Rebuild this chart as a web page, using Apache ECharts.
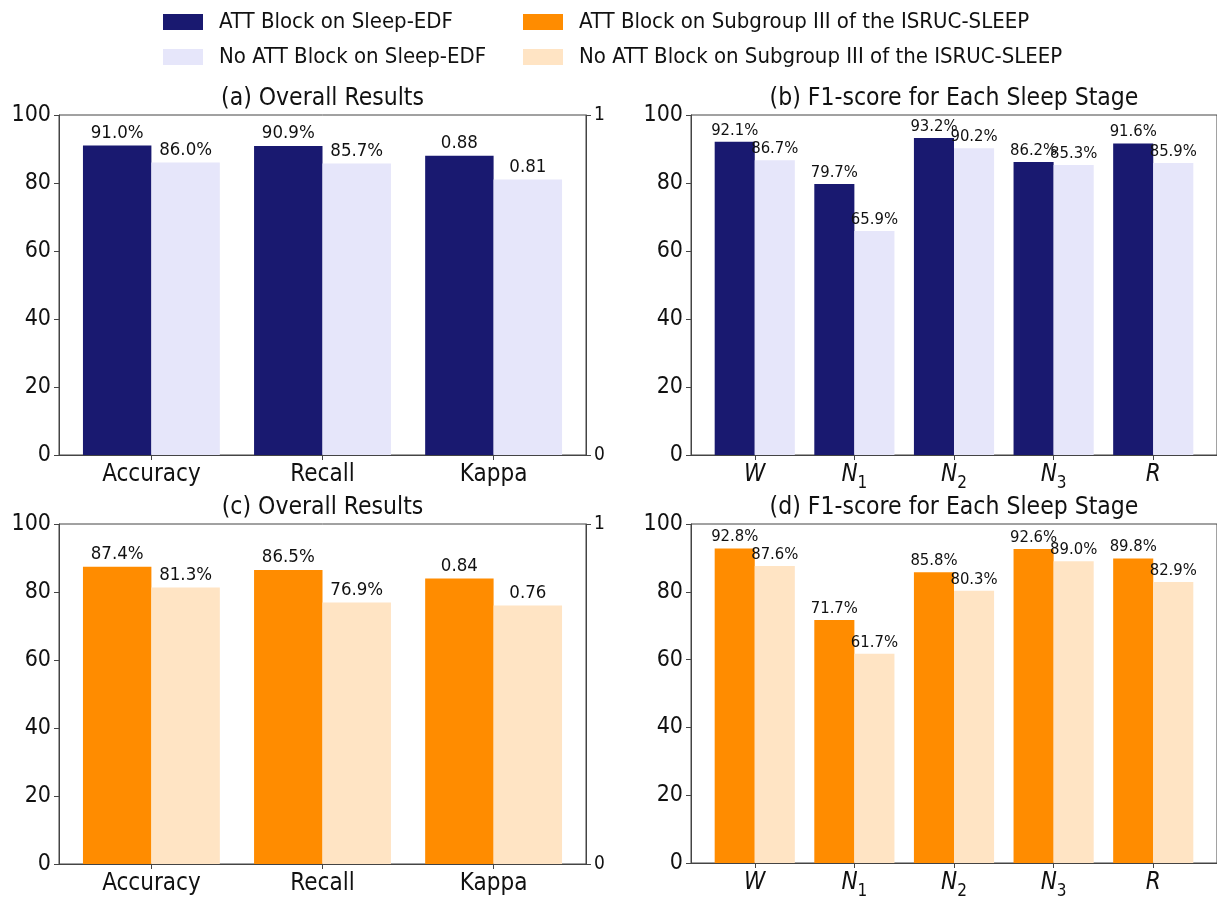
<!DOCTYPE html>
<html>
<head>
<meta charset="utf-8">
<title>ATT Block ablation</title>
<script src="https://cdn.jsdelivr.net/npm/echarts@6/dist/echarts.min.js"></script>
<style>
  html, body { margin: 0; padding: 0; background: #fff; }
  #chart { width: 1217px; height: 900px; }
</style>
</head>
<body>
<div id="chart"></div>
<script>
// ---- data ----
const overallCats = ['Accuracy', 'Recall', 'Kappa'];
const stageCats = ['W', 'N1', 'N2', 'N3', 'R'];
const yTicks = [0, 20, 40, 60, 80, 100];

const seriesNames = {
  edfAtt: 'ATT Block on Sleep-EDF',
  edfNo: 'No ATT Block on Sleep-EDF',
  isAtt: 'ATT Block on Subgroup III of the ISRUC-SLEEP',
  isNo: 'No ATT Block on Subgroup III of the ISRUC-SLEEP'
};

// Sleep-EDF: accuracy / recall (%) and kappa
const edfAttOverall = [91.0, 90.9];
const edfNoOverall = [86.0, 85.7];
const edfAttKappa = 0.88;
const edfNoKappa = 0.81;
// Sleep-EDF: per-stage F1 (%)
const edfAttF1 = [92.1, 79.7, 93.2, 86.2, 91.6];
const edfNoF1 = [86.7, 65.9, 90.2, 85.3, 85.9];

// ISRUC-SLEEP subgroup III
const isAttOverall = [87.4, 86.5];
const isNoOverall = [81.3, 76.9];
const isAttKappa = 0.84;
const isNoKappa = 0.76;
const isAttF1 = [92.8, 71.7, 85.8, 92.6, 89.8];
const isNoF1 = [87.6, 61.7, 80.3, 89.0, 82.9];

// ---- colours ----
const C = {
  edfAtt: '#191970',
  edfNo: '#E6E6FA',
  isAtt: '#FF8C00',
  isNo: '#FFE4C4'
};

const FONT = "'DejaVu Sans Condensed', 'DejaVu Sans', sans-serif";
const INK = '#111';
const SPINE = '#444';

// ---- panel geometry ----
const panels = [
  { left: 59, top: 115, width: 527, height: 340, min: -0.54, max: 2.54 },  // (a)
  { left: 691, top: 115, width: 529, height: 340, min: -0.64, max: 4.64 }, // (b)
  { left: 59, top: 524, width: 527, height: 340, min: -0.54, max: 2.54 },  // (c)
  { left: 691, top: 524, width: 529, height: 340, min: -0.64, max: 4.64 }  // (d)
];
const barPx = p => 0.4 * p.width / (p.max - p.min);

const grid = panels.map(p => ({
  left: p.left, top: p.top, width: p.width, height: p.height,
  show: true, borderColor: SPINE, borderWidth: 1, backgroundColor: 'transparent'
}));

const pct = v => v.toFixed(1) + '%';
const kap = v => v.toFixed(2);

function overallXAxis(gi) {
  const p = panels[gi];
  return {
    type: 'value', gridIndex: gi, min: p.min, max: p.max,
    splitLine: { show: false },
    axisLine: { show: true, onZero: false, lineStyle: { color: SPINE } },
    axisTick: { show: true, customValues: overallCats.map((c, i) => i), length: 5, lineStyle: { color: SPINE } },
    axisLabel: {
      customValues: overallCats.map((c, i) => i),
      formatter: v => overallCats[Math.round(v)],
      fontSize: 24, color: INK, fontFamily: FONT, margin: 8
    }
  };
}
function hiddenXAxis(gi) {
  const p = panels[gi];
  return { type: 'value', gridIndex: gi, min: p.min, max: p.max, show: false, splitLine: { show: false } };
}
function stageXAxis(gi) {
  const p = panels[gi];
  return {
    type: 'value', gridIndex: gi, min: p.min, max: p.max,
    splitLine: { show: false },
    axisLine: { show: true, onZero: false, lineStyle: { color: SPINE } },
    axisTick: { show: true, customValues: stageCats.map((c, i) => i), length: 5, lineStyle: { color: SPINE } },
    axisLabel: {
      customValues: stageCats.map((c, i) => i),
      formatter: v => {
        const s = stageCats[Math.round(v)];
        return s.length > 1 ? '{it|' + s[0] + '}{sub|' + s.slice(1) + '}' : '{it|' + s + '}';
      },
      margin: 8,
      rich: {
        it: { fontStyle: 'italic', fontSize: 24, color: INK, fontFamily: FONT, padding: [0, 0, 5, 0], verticalAlign: 'bottom' },
        sub: { fontSize: 17, color: INK, fontFamily: FONT, verticalAlign: 'bottom' }
      }
    }
  };
}
function leftYAxis(gi) {
  return {
    type: 'value', gridIndex: gi, min: yTicks[0], max: yTicks[yTicks.length - 1], interval: 20,
    position: 'left',
    splitLine: { show: false },
    axisLine: { show: true, onZero: false, lineStyle: { color: SPINE } },
    axisTick: { show: true, length: 5, lineStyle: { color: SPINE } },
    axisLabel: { fontSize: 23, color: INK, fontFamily: FONT, margin: 8 }
  };
}
function kappaYAxis(gi) {
  return {
    type: 'value', gridIndex: gi, min: 0, max: 1, interval: 1,
    position: 'right',
    splitLine: { show: false },
    axisLine: { show: true, onZero: false, lineStyle: { color: SPINE } },
    axisTick: { show: true, length: 5, lineStyle: { color: SPINE } },
    axisLabel: { fontSize: 19, color: INK, fontFamily: FONT, margin: 8 }
  };
}

const xAxis = [
  overallXAxis(0), hiddenXAxis(0), // 0,1 panel (a)
  stageXAxis(1),                   // 2   panel (b)
  overallXAxis(2), hiddenXAxis(2), // 3,4 panel (c)
  stageXAxis(3)                    // 5   panel (d)
];
const yAxis = [
  leftYAxis(0), kappaYAxis(0), // 0,1
  leftYAxis(1),                // 2
  leftYAxis(2), kappaYAxis(2), // 3,4
  leftYAxis(3)                 // 5
];

function bars(name, color, values, xi, yi, p, fmt, startIndex, labelSize) {
  return {
    type: 'bar', name: name, xAxisIndex: xi, yAxisIndex: yi,
    data: values.map((v, i) => [i + startIndex, v]),
    barWidth: barPx(p), barGap: '0%',
    itemStyle: { color: color },
    label: {
      show: true, position: 'top', distance: 3,
      formatter: o => fmt(o.value[1]),
      fontSize: labelSize, color: INK, fontFamily: FONT
    },
    emphasis: { disabled: true },
    animation: false
  };
}
const kIdx = overallCats.indexOf('Kappa');
const LBL_OVERALL = 18.5;
const LBL_STAGE = 16.5;

const series = [
  // (a)
  bars(seriesNames.edfAtt, C.edfAtt, edfAttOverall, 0, 0, panels[0], pct, 0, LBL_OVERALL),
  bars(seriesNames.edfNo, C.edfNo, edfNoOverall, 0, 0, panels[0], pct, 0, LBL_OVERALL),
  bars(seriesNames.edfAtt, C.edfAtt, [edfAttKappa], 1, 1, panels[0], kap, kIdx, LBL_OVERALL),
  bars(seriesNames.edfNo, C.edfNo, [edfNoKappa], 1, 1, panels[0], kap, kIdx, LBL_OVERALL),
  // (b)
  bars(seriesNames.edfAtt, C.edfAtt, edfAttF1, 2, 2, panels[1], pct, 0, LBL_STAGE),
  bars(seriesNames.edfNo, C.edfNo, edfNoF1, 2, 2, panels[1], pct, 0, LBL_STAGE),
  // (c)
  bars(seriesNames.isAtt, C.isAtt, isAttOverall, 3, 3, panels[2], pct, 0, LBL_OVERALL),
  bars(seriesNames.isNo, C.isNo, isNoOverall, 3, 3, panels[2], pct, 0, LBL_OVERALL),
  bars(seriesNames.isAtt, C.isAtt, [isAttKappa], 4, 4, panels[2], kap, kIdx, LBL_OVERALL),
  bars(seriesNames.isNo, C.isNo, [isNoKappa], 4, 4, panels[2], kap, kIdx, LBL_OVERALL),
  // (d)
  bars(seriesNames.isAtt, C.isAtt, isAttF1, 5, 5, panels[3], pct, 0, LBL_STAGE),
  bars(seriesNames.isNo, C.isNo, isNoF1, 5, 5, panels[3], pct, 0, LBL_STAGE)
];

const titleStyle = { fontSize: 24.5, fontWeight: 'normal', color: INK, fontFamily: FONT };
const title = [
  { text: '(a) Overall Results', top: 86 },
  { text: '(b) F1-score for Each Sleep Stage', top: 86 },
  { text: '(c) Overall Results', top: 495 },
  { text: '(d) F1-score for Each Sleep Stage', top: 495 }
].map((t, i) => ({
  text: t.text, top: t.top,
  left: panels[i].left + (i % 2 === 0 ? panels[i].width : 526) / 2,
  textAlign: 'center', padding: 0, textStyle: titleStyle
}));

const legendBase = {
  orient: 'vertical', top: 11, padding: 0, itemGap: 13,
  itemWidth: 40, itemHeight: 16, icon: 'rect',
  selectedMode: false,
  textStyle: { fontSize: 22, color: INK, fontFamily: FONT, lineHeight: 20, padding: [0, 0, 0, 11] }
};
const legend = [
  Object.assign({}, legendBase, { left: 163, data: [seriesNames.edfAtt, seriesNames.edfNo] }),
  Object.assign({}, legendBase, { left: 523, data: [seriesNames.isAtt, seriesNames.isNo] })
];

const chart = echarts.init(document.getElementById('chart'), null, { renderer: 'canvas' });
chart.setOption({
  animation: false,
  backgroundColor: '#fff',
  textStyle: { fontFamily: FONT },
  title: title,
  legend: legend,
  grid: grid,
  xAxis: xAxis,
  yAxis: yAxis,
  series: series
});
</script>
</body>
</html>
